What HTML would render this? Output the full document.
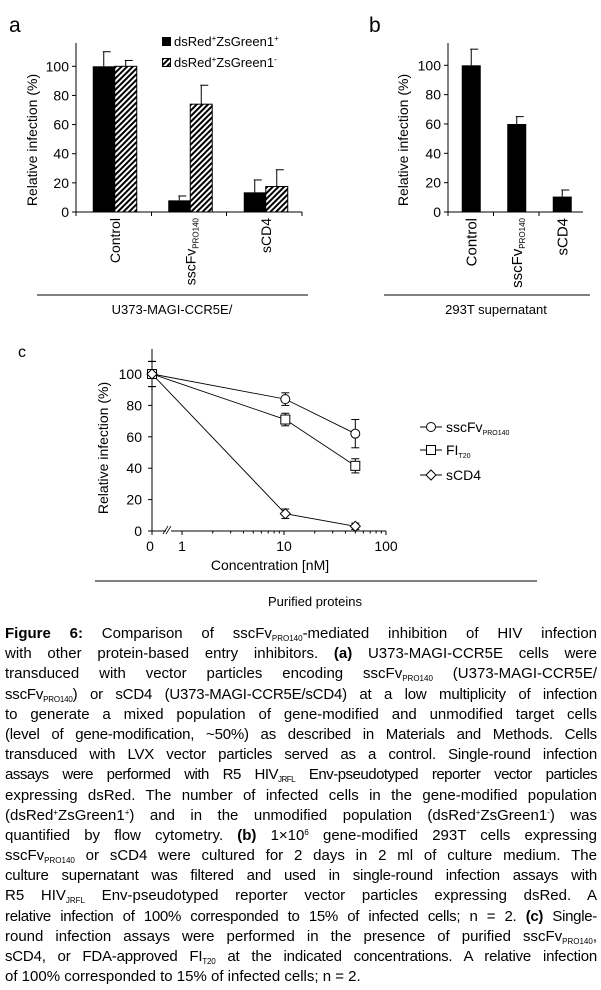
<!DOCTYPE html>
<html><head><meta charset="utf-8">
<style>
html,body{margin:0;padding:0;background:#fff;}
body{width:601px;height:990px;position:relative;overflow:hidden;font-family:"Liberation Sans",Arial,sans-serif;}
svg{position:absolute;left:0;top:0;}
#caption{position:absolute;left:5px;top:624px;width:592px;font-size:15px;line-height:20.2px;color:#000;}
#caption div{text-align:justify;text-align-last:justify;white-space:nowrap;height:20.2px;}
#caption div.last{text-align-last:left;}
sub,sup{font-size:8px;line-height:0;}
sub{vertical-align:-3px;}
sup{vertical-align:5px;}
</style></head><body>
<svg id="fig" width="601" height="620" viewBox="0 0 601 620" font-family="Liberation Sans, Arial, sans-serif">
<defs>
<pattern id="hatch" patternUnits="userSpaceOnUse" width="4" height="4" patternTransform="rotate(45)">
<rect width="4" height="4" fill="#fff"/><rect width="2" height="4" fill="#000"/>
</pattern>
</defs>
<g id="pa"></g>
<g id="pb"></g>
<g id="pc"></g>
</svg>
<div id="caption">
<div><b>Figure 6:</b> Comparison of sscFv<sub>PRO140</sub>-mediated inhibition of HIV infection</div>
<div>with other protein-based entry inhibitors. <b>(a)</b> U373-MAGI-CCR5E cells were</div>
<div>transduced with vector particles encoding sscFv<sub>PRO140</sub> (U373-MAGI-CCR5E/</div>
<div style="letter-spacing:-0.2px">sscFv<sub>PRO140</sub>) or sCD4 (U373-MAGI-CCR5E/sCD4) at a low multiplicity of infection</div>
<div>to generate a mixed population of gene-modified and unmodified target cells</div>
<div style="letter-spacing:-0.2px">(level of gene-modification, ~50%) as described in Materials and Methods. Cells</div>
<div style="letter-spacing:-0.2px">transduced with LVX vector particles served as a control. Single-round infection</div>
<div style="letter-spacing:-0.5px">assays were performed with R5 HIV<sub>JRFL</sub> Env-pseudotyped reporter vector particles</div>
<div>expressing dsRed. The number of infected cells in the gene-modified population</div>
<div>(dsRed<sup>+</sup>ZsGreen1<sup>+</sup>) and in the unmodified population (dsRed<sup>+</sup>ZsGreen1<sup>-</sup>) was</div>
<div>quantified by flow cytometry. <b>(b)</b> 1×10<sup>6</sup> gene-modified 293T cells expressing</div>
<div>sscFv<sub>PRO140</sub> or sCD4 were cultured for 2 days in 2 ml of culture medium. The</div>
<div style="letter-spacing:-0.2px">culture supernatant was filtered and used in single-round infection assays with</div>
<div>R5 HIV<sub>JRFL</sub> Env-pseudotyped reporter vector particles expressing dsRed. A</div>
<div style="letter-spacing:-0.3px">relative infection of 100% corresponded to 15% of infected cells; n = 2. <b>(c)</b> Single-</div>
<div>round infection assays were performed in the presence of purified sscFv<sub>PRO140</sub>,</div>
<div style="letter-spacing:-0.2px">sCD4, or FDA-approved FI<sub>T20</sub> at the indicated concentrations. A relative infection</div>
<div class="last">of 100% corresponded to 15% of infected cells; n = 2.</div>
</div>
<script>
// Panel a data
const catsA = ["Control", "sscFv", "sCD4"];
const posA = [100, 8, 13.5];
const posAErr = [110, 11, 22];
const negA = [100, 74, 17.5];
const negAErr = [104, 87, 29];
// Panel b data
const catsB = ["Control", "sscFv", "sCD4"];
const valsB = [100, 60, 10.5];
const errB = [111, 65, 15];
// Panel c data
const concC = [0, 10.3, 50];
const scFvC = [100, 84, 62];
const scFvHi = [108, 88, 71];
const scFvLo = [92, 80, 53];
const fiC = [100, 71, 41.5];
const fiHi = [108, 75, 46];
const fiLo = [92, 67, 37];
const cd4C = [100, 11, 3];
const cd4Hi = [108, 14, 5];
const cd4Lo = [92, 8, 1];
const yTicks = [0, 20, 40, 60, 80, 100];
const xTicksC = ["0", "1", "10", "100"];

const NS = "http://www.w3.org/2000/svg";
function mk(parent, tag, attrs, text) {
  const e = document.createElementNS(NS, tag);
  for (const k in attrs) e.setAttribute(k, attrs[k]);
  if (text !== undefined) e.textContent = text;
  parent.appendChild(e);
  return e;
}
function line(p, x1, y1, x2, y2, w) { return mk(p, "line", {x1, y1, x2, y2, stroke: "#000", "stroke-width": w || 1}); }

// ---------- Panel A ----------
(function () {
  const g = document.getElementById("pa");
  const x0 = 76, y0 = 212, yTop = 43, xEnd = 302;
  const y = v => y0 - v * 1.457;
  const t = mk(g, "text", {x: 9, y: 32, "font-size": 21}, "a");
  
  
  const ax = line(g, x0, yTop, x0, y0);  
  const bx = line(g, x0, y0, xEnd, y0);  
  yTicks.forEach(v => {
    line(g, x0 - 4, y(v), x0, y(v));
    const tl = mk(g, "text", {x: x0 - 7, y: y(v) + 5, "font-size": 14, "text-anchor": "end"}, v);
    
    
  });
  [x0, 151.5, 226.5, xEnd].forEach(xx => line(g, xx, y0, xx, y0 + 4));
  const yt = mk(g, "text", {x: 0, y: 0, "font-size": 14, "text-anchor": "middle", transform: "translate(37,140) rotate(-90)"}, "Relative infection (%)");
  
  
  const gw = 75.5, bw = 22;
  catsA.forEach((c, i) => {
    const cx = x0 + gw * i + gw / 2 + 1;
    const b1 = mk(g, "rect", {x: cx - bw, y: y(posA[i]), width: bw, height: y0 - y(posA[i]), fill: "#000"});
    
    
    line(g, cx - bw / 2, y(posA[i]), cx - bw / 2, y(posAErr[i]));
    line(g, cx - bw / 2 - 1, y(posAErr[i]), cx - bw / 2 + 7, y(posAErr[i]));
    const b2 = mk(g, "rect", {x: cx, y: y(negA[i]), width: bw, height: y0 - y(negA[i]), fill: "url(#hatch)", stroke: "#000", "stroke-width": 1});
    
    
    line(g, cx + bw / 2, y(negA[i]), cx + bw / 2, y(negAErr[i]));
    line(g, cx + bw / 2 - 1, y(negAErr[i]), cx + bw / 2 + 7, y(negAErr[i]));
    const lab = mk(g, "text", {x: 0, y: 0, "font-size": 14, "text-anchor": "end", transform: "translate(" + (cx + 5) + ",218) rotate(-90)"});
    
    
    if (c === "sscFv") {
      lab.textContent = "sscFv";
      mk(lab, "tspan", {"font-size": 8, dy: 3}, "PRO140");
    } else lab.textContent = c;
  });
  const l1 = mk(g, "rect", {x: 162, y: 37, width: 9, height: 9, fill: "#000"});
  
  
  const lt1 = mk(g, "text", {x: 174, y: 46, "font-size": 13});
  
  
  lt1.innerHTML = 'dsRed<tspan font-size="8" dy="-5">+</tspan><tspan dy="5">ZsGreen1</tspan><tspan font-size="8" dy="-5">+</tspan>';
  const l2 = mk(g, "rect", {x: 162.5, y: 58.5, width: 8, height: 8, fill: "url(#hatch)", stroke: "#000", "stroke-width": 1});
  
  
  const lt2 = mk(g, "text", {x: 174, y: 67, "font-size": 13});
  
  
  lt2.innerHTML = 'dsRed<tspan font-size="8" dy="-5">+</tspan><tspan dy="5">ZsGreen1</tspan><tspan font-size="8" dy="-5">-</tspan>';
  line(g, 37, 295, 308, 295);
  const gl = mk(g, "text", {x: 172, y: 314, "font-size": 13, "text-anchor": "middle"}, "U373-MAGI-CCR5E/");
  
  
})();

// ---------- Panel B ----------
(function () {
  const g = document.getElementById("pb");
  const x0 = 448, y0 = 212, yTop = 43, xEnd = 583;
  const y = v => y0 - v * 1.467;
  const t = mk(g, "text", {x: 369, y: 32, "font-size": 21}, "b");
  
  
  const ax = line(g, x0, yTop, x0, y0);  
  const bx = line(g, x0, y0, xEnd, y0);  
  yTicks.forEach(v => {
    line(g, x0 - 4, y(v), x0, y(v));
    const tl = mk(g, "text", {x: x0 - 7, y: y(v) + 5, "font-size": 14, "text-anchor": "end"}, v);
    
    
  });
  const gw = 45.5;
  [x0, x0 + gw, x0 + 2 * gw].forEach(xx => line(g, xx, y0, xx, y0 + 4));
  const yt = mk(g, "text", {x: 0, y: 0, "font-size": 14, "text-anchor": "middle", transform: "translate(408,140) rotate(-90)"}, "Relative infection (%)");
  
  
  const bw = 19;
  catsB.forEach((c, i) => {
    const cx = x0 + gw * i + gw / 2 + 0.5;
    const b = mk(g, "rect", {x: cx - bw / 2, y: y(valsB[i]), width: bw, height: y0 - y(valsB[i]), fill: "#000"});
    
    
    line(g, cx, y(valsB[i]), cx, y(errB[i]));
    line(g, cx - 1, y(errB[i]), cx + 7, y(errB[i]));
    const lab = mk(g, "text", {x: 0, y: 0, "font-size": 15, "text-anchor": "end", transform: "translate(" + (cx + 5) + ",218) rotate(-90)"});
    
    
    if (c === "sscFv") {
      lab.textContent = "sscFv";
      mk(lab, "tspan", {"font-size": 8, dy: 3}, "PRO140");
    } else lab.textContent = c;
  });
  line(g, 384, 295, 590, 295);
  const gl = mk(g, "text", {x: 496, y: 314, "font-size": 13, "text-anchor": "middle"}, "293T supernatant");
  
  
})();

// ---------- Panel C ----------
(function () {
  const g = document.getElementById("pc");
  const x0 = 152, y0 = 531, yTop = 349, xEnd = 386;
  const y = v => y0 - v * 1.57;
  const x1 = 182, dec = 102;
  const x = v => v === 0 ? x0 : x1 + Math.log10(v) * dec;
  const t = mk(g, "text", {x: 18, y: 357, "font-size": 16}, "c");
  
  
  const ax = line(g, x0, yTop, x0, y0);  
  const bx1 = line(g, x0, y0, 166, y0);  
  const bx = line(g, 171, y0, xEnd, y0);  
  mk(g, "path", {d: "M163 " + (y0 + 3) + " L168 " + (y0 - 5) + " M166 " + (y0 + 3) + " L171 " + (y0 - 5), stroke: "#000", fill: "none", "stroke-width": 0.8});
  yTicks.forEach(v => {
    line(g, x0 - 4, y(v), x0, y(v));
    const tl = mk(g, "text", {x: x0 - 10, y: y(v) + 5, "font-size": 14, "text-anchor": "end"}, v);
    
    
  });
  line(g, x0, y0, x0, y0 + 4);
  for (let d = 0; d < 2; d++) for (let k = 1; k <= 10; k++) {
    const xv = x(Math.pow(10, d) * k);
    line(g, xv, y0, xv, y0 + (k === 1 || k === 10 ? 4 : 2.5));
  }
  const tickVals = [0, 1, 10, 100];
  xTicksC.forEach((lbl, i) => {
    const tl = mk(g, "text", {x: x(tickVals[i]) - (i === 0 ? 2 : 0), y: 551, "font-size": 14, "text-anchor": "middle"}, lbl);
    
    
  });
  const xt = mk(g, "text", {x: 270, y: 570, "font-size": 14, "text-anchor": "middle"}, "Concentration [nM]");
  
  
  const yt = mk(g, "text", {x: 0, y: 0, "font-size": 14, "text-anchor": "middle", transform: "translate(108,448) rotate(-90)"}, "Relative infection (%)");
  
  

  function marker(p, type, cx, cy) {
    let m;
    if (type === "circle") m = mk(p, "circle", {cx, cy, r: 4.5, fill: "#fff", stroke: "#000"});
    else if (type === "square") m = mk(p, "rect", {x: cx - 4.5, y: cy - 4.5, width: 9, height: 9, fill: "#fff", stroke: "#000"});
    else m = mk(p, "polygon", {points: [cx, cy - 5, cx + 5, cy, cx, cy + 5, cx - 5, cy].join(" "), fill: "#fff", stroke: "#000"});
    return m;
  }
  const series = [
    {name: "sscfv", type: "circle", v: scFvC, hi: scFvHi, lo: scFvLo},
    {name: "fi-t20", type: "square", v: fiC, hi: fiHi, lo: fiLo},
    {name: "scd4", type: "diamond", v: cd4C, hi: cd4Hi, lo: cd4Lo}
  ];
  series.forEach(s => {
    const pts = concC.map((c, i) => x(c) + "," + y(s.v[i])).join(" ");
    const pl = mk(g, "polyline", {points: pts, fill: "none", stroke: "#000", "stroke-width": 0.9});
    
    
  });
  series.forEach(s => {
    concC.forEach((c, i) => {
      const cx = x(c);
      line(g, cx, y(s.hi[i]), cx, y(s.lo[i]));
      line(g, cx - 4, y(s.hi[i]), cx + 4, y(s.hi[i]));
      line(g, cx - 4, y(s.lo[i]), cx + 4, y(s.lo[i]));
    });
  });
  series.forEach(s => {
    concC.forEach((c, i) => {
      const m = marker(g, s.type, x(c), y(s.v[i]));
      
      
    });
  });
  const legY = [427, 450, 475];
  const legTxt = [["sscFv", "PRO140"], ["FI", "T20"], ["sCD4", ""]];
  series.forEach((s, i) => {
    line(g, 420, legY[i], 442, legY[i]);
    marker(g, s.type, 431, legY[i]);
    const lt = mk(g, "text", {x: 446, y: legY[i] + 5, "font-size": 14}, legTxt[i][0]);
    
    
    if (legTxt[i][1]) mk(lt, "tspan", {"font-size": 7, dy: 3}, legTxt[i][1]);
  });
  line(g, 95, 581, 537, 581);
  const gl = mk(g, "text", {x: 315, y: 606, "font-size": 13, "text-anchor": "middle"}, "Purified proteins");
  
  
})();
</script>
</body></html>
